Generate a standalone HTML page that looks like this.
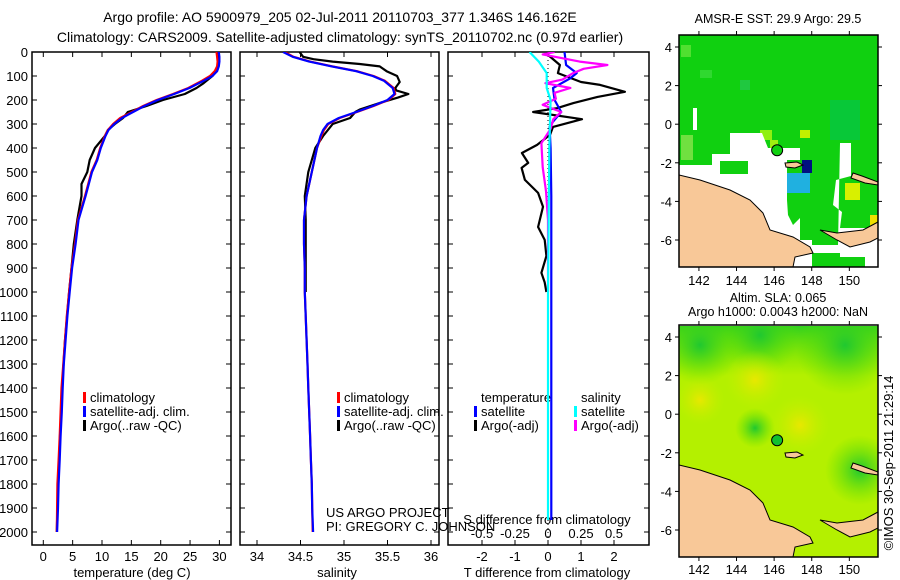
<!DOCTYPE html>
<html><head><meta charset="utf-8">
<style>
body{margin:0;background:#fff;}
svg{display:block;font-family:"Liberation Sans",sans-serif;}
text{font-size:13px;fill:#000;}
</style></head>
<body>
<svg id="fig" width="900" height="580" xmlns="http://www.w3.org/2000/svg">
<defs>
<clipPath id="c1"><rect x="32" y="52" width="199" height="493"/></clipPath>
<clipPath id="c2"><rect x="240" y="52" width="199" height="493"/></clipPath>
<clipPath id="c3"><rect x="448" y="52" width="201" height="493"/></clipPath>
<clipPath id="cm1"><rect x="679" y="35" width="199" height="232"/></clipPath>
<clipPath id="cm2"><rect x="679" y="326" width="199" height="231"/></clipPath>
<radialGradient id="gy1" cx="0.5" cy="0.5" r="0.5"><stop offset="0" stop-color="#e8e800"/><stop offset="1" stop-color="#c0f000" stop-opacity="0"/></radialGradient>
<radialGradient id="gg1" cx="0.5" cy="0.5" r="0.5"><stop offset="0" stop-color="#20c830"/><stop offset="1" stop-color="#60e000" stop-opacity="0"/></radialGradient>
<linearGradient id="topg" x1="0" y1="0" x2="0" y2="1"><stop offset="0" stop-color="#30d020"/><stop offset="1" stop-color="#60e000" stop-opacity="0"/></linearGradient>
</defs>
<text x="340" y="22" text-anchor="middle" style="font-size:14px">Argo profile: AO 5900979_205 02-Jul-2011 20110703_377 1.346S 146.162E</text>
<text x="340" y="42" text-anchor="middle" style="font-size:14px">Climatology: CARS2009. Satellite-adjusted climatology: synTS_20110702.nc (0.97d earlier)</text>
<g id="axes"></g>
<g id="series"></g>
<g id="maps"></g>
<text transform="translate(893,463) rotate(-90)" text-anchor="middle">©IMOS 30-Sep-2011 21:29:14</text>
</svg>
<script>
// ---- data ----
const climDepths=[0,20,40,60,80,100,120,150,175,200,225,250,275,300,325,350,400,450,500,600,700,800,900,1000,1100,1200,1300,1400,1500,1600,1700,1800,1900,2000];
const climTemp=[29.5,29.6,29.7,29.6,29.2,28.4,27,24.7,22.1,19.3,17,15.1,13.1,11.9,11,10.5,9.7,9.1,8.2,7.1,5.9,5.4,4.8,4.4,4.0,3.7,3.4,3.1,2.95,2.8,2.6,2.4,2.35,2.3];
const satTemp=[29.9,30.0,30.0,29.9,29.6,28.8,27.3,24.9,22.3,19.5,17.2,15.3,13.4,12.1,11.1,10.6,9.8,9.2,8.3,7.2,6.0,5.5,4.9,4.5,4.1,3.8,3.5,3.3,3.15,2.95,2.8,2.6,2.5,2.35];
const argoTempDepths=[0,20,50,80,100,130,150,175,200,225,250,275,300,325,350,400,450,500,550,600,700,800,900,1000,1200,1400,1600,1800,2000];
const argoTemp=[29.6,29.7,29.8,29.5,28.8,27.3,26.1,24.1,20.4,17.6,14.4,13.6,12.2,11,10.5,8.8,7.9,7.5,6.5,6.5,5.8,5.2,4.8,4.4,3.7,3.2,2.85,2.5,2.3];
const climSal=[34.32,34.42,34.61,34.87,35.15,35.34,35.47,35.57,35.59,35.51,35.34,35.15,34.95,34.82,34.77,34.74,34.69,34.66,34.63,34.57,34.54,34.54,34.55,34.55,34.56,34.57,34.58,34.59,34.6,34.61,34.62,34.63,34.635,34.64];
const satSal=[34.3,34.41,34.6,34.86,35.14,35.33,35.46,35.56,35.58,35.5,35.33,35.14,34.94,34.81,34.76,34.73,34.69,34.66,34.63,34.57,34.54,34.54,34.55,34.55,34.56,34.57,34.58,34.59,34.6,34.61,34.62,34.63,34.635,34.645];
const argoSalDepths=[0,20,30,40,50,60,80,100,125,150,160,175,190,210,240,250,275,300,350,400,450,500,600,700,1000];
const argoSal=[34.49,34.53,34.65,34.87,35.18,35.41,35.49,35.61,35.64,35.59,35.6,35.74,35.62,35.43,35.18,35.13,35.07,34.87,34.76,34.67,34.63,34.59,34.55,34.56,34.56];
const argoTdiffDepths=[0,12,54,88,125,137,166,187,213,234,250,280,312,345,387,421,462,483,533,587,645,729,783,850,920,960,1000];
const argoTdiff=[0,0,0.36,0.3,1.0,1.58,2.33,1.5,0.77,0.27,-0.45,1.03,0.15,0.06,-0.33,-0.79,-0.6,-0.8,-0.7,-0.3,-0.15,-0.3,-0.1,-0.05,-0.2,-0.1,-0.05];
const satTdiffDepths=[0,54,88,110,150,200,250,290,312,400,600,1000,1400,1950];
const satTdiff=[0.5,0.55,0.87,0.67,0.15,0.2,0.4,0.15,0.05,0.08,0.1,0.1,0.1,0.1];
const argoSdiffDepths=[0,10,40,54,70,88,115,130,150,170,195,220,250,280,320,380,480,580,700,1000];
const argoSdiff=[0.05,-0.04,0.24,0.45,0.27,0.19,0.11,-0.02,0.17,0.05,0.06,-0.04,0.1,0.04,0.02,-0.05,-0.04,-0.015,0,0];
const satSdiffDepths=[0,40,88,150,200,400,1000,1950];
const satSdiff=[-0.14,-0.07,-0.01,-0.01,0.02,0.01,0,0];
const depthTicks=[0,100,200,300,400,500,600,700,800,900,1000,1100,1200,1300,1400,1500,1600,1700,1800,1900,2000];
const tempTicks=[0,5,10,15,20,25,30];
const salTicks=[34,34.5,35,35.5,36];
const tdTicks=[-2,-1,0,1,2];
const sdTicks=[-0.5,-0.25,0,0.25,0.5];
const sdTickLabels=["-0.5","-0.25","0","0.25","0.5"];
const lonTicks=[142,144,146,148,150];
const latTicks=[4,2,0,-2,-4,-6];

// ---- scales ----
const yD=d=>52+d*0.24;
const xT=t=>43.3+t*5.87;
const xS=s=>257+(s-34)*87;
const xTd=t=>548+t*33;
const xSd=s=>548+s*132;
const NS="http://www.w3.org/2000/svg";
function mk(tag,attrs,parent){const e=document.createElementNS(NS,tag);for(const k in attrs)e.setAttribute(k,attrs[k]);parent.appendChild(e);return e;}
const axes=document.getElementById('axes'), ser=document.getElementById('series'), maps=document.getElementById('maps');

function panel(x0,x1,name){
  const r=mk('rect',{x:x0,y:52,width:x1-x0,height:493,fill:'none',stroke:'#000','stroke-width':1.5},axes);
  
  
  depthTicks.forEach(d=>{
    mk('line',{x1:x0,x2:x0+5,y1:yD(d),y2:yD(d),stroke:'#000'},axes);
    mk('line',{x1:x1-5,x2:x1,y1:yD(d),y2:yD(d),stroke:'#000'},axes);
  });
}
panel(32,231,'temperature-panel');panel(240,439,'salinity-panel');panel(448,649,'difference-panel');
depthTicks.forEach(d=>{
  const t=mk('text',{x:28,y:yD(d)+5,'text-anchor':'end'},axes);t.textContent=d;
  
  
});
function xticks(vals,labels,sc,x0,name){
  vals.forEach((v,i)=>{
    const x=sc(v);
    mk('line',{x1:x,x2:x,y1:52,y2:57,stroke:'#000'},axes);
    mk('line',{x1:x,x2:x,y1:540,y2:545,stroke:'#000'},axes);
    const t=mk('text',{x:x,y:561,'text-anchor':'middle'},axes);t.textContent=labels[i];
    
    
  });
}
xticks(tempTicks,tempTicks,xT,32,'temperature-tick-label');
xticks(salTicks,salTicks,xS,240,'salinity-tick-label');
xticks(tdTicks,tdTicks,xTd,448,'tdiff-tick-label');
sdTicks.forEach((v,i)=>{const t=mk('text',{x:xSd(v),y:538,'text-anchor':'middle'},axes);t.textContent=sdTickLabels[i];
  
  });
function lbl(x,y,txt,name,anchor){const t=mk('text',{x:x,y:y,'text-anchor':anchor||'start'},axes);t.textContent=txt;
  
  return t;}
lbl(132,577,'temperature (deg C)','temperature-axis-title','middle');
lbl(337,577,'salinity','salinity-axis-title','middle');
lbl(547,577,'T difference from climatology','tdiff-axis-title','middle');
lbl(547,524,'S difference from climatology','sdiff-axis-title','middle');
lbl(326,517,'US ARGO PROJECT','project-label');
lbl(326,531,'PI: GREGORY C. JOHNSON','pi-label');
function legend(x,y,color,txt,name){mk('rect',{x:x,y:y-10,width:3,height:11,fill:color},axes);lbl(x+7,y,txt,name);}
legend(83,402,'#f00','climatology','legend-climatology');
legend(83,416,'#00f','satellite-adj. clim.','legend-satellite-adj');
legend(83,430,'#000','Argo(..raw -QC)','legend-argo');
legend(337,402,'#f00','climatology','legend-sal-climatology');
legend(337,416,'#00f','satellite-adj. clim.','legend-sal-satellite-adj');
legend(337,430,'#000','Argo(..raw -QC)','legend-sal-argo');
lbl(481,402,'temperature','legend-temperature-heading');
legend(474,416,'#00f','satellite','legend-t-satellite');
legend(474,430,'#000','Argo(-adj)','legend-t-argo');
lbl(581,402,'salinity','legend-salinity-heading');
legend(574,416,'#0ff','satellite','legend-s-satellite');
legend(574,430,'#f0f','Argo(-adj)','legend-s-argo');
mk('line',{x1:548,x2:548,y1:52,y2:545,stroke:'#000','stroke-dasharray':'1,3'},axes);

function line(depths,vals,sc,color,clip,name){
  const pts=depths.map((d,i)=>sc(vals[i]).toFixed(1)+','+yD(d).toFixed(1)).join(' ');
  const p=mk('polyline',{points:pts,fill:'none',stroke:color,'stroke-width':2.2,'clip-path':'url(#'+clip+')','stroke-linejoin':'round'},ser);
  
  
}
line(argoTempDepths,argoTemp,xT,'#000','c1','argo-temperature-line');
line(climDepths,climTemp,xT,'#f00','c1','climatology-temperature-line');
line(climDepths,satTemp,xT,'#00f','c1','satellite-temperature-line');
line(argoSalDepths,argoSal,xS,'#000','c2','argo-salinity-line');
line(climDepths,climSal,xS,'#f00','c2','climatology-salinity-line');
line(climDepths,satSal,xS,'#00f','c2','satellite-salinity-line');
line(argoTdiffDepths,argoTdiff,xTd,'#000','c3','argo-tdiff-line');
line(satTdiffDepths,satTdiff,xTd,'#00f','c3','satellite-tdiff-line');
line(argoSdiffDepths,argoSdiff,xSd,'#f0f','c3','argo-sdiff-line');
line(satSdiffDepths,satSdiff,xSd,'#0ff','c3','satellite-sdiff-line');

// ---- maps ----
const mx=lon=>679+(lon-140.94)*18.8;
function drawMap(yoff,clip,title1,title2,sst,name){
  const g=mk('g',{'clip-path':'url(#'+clip+')'},maps);
  
  
  const my=lat=>47+yoff+(4-lat)*19.3;
  const P=a=>a.map(p=>p[0]+','+(p[1]+yoff)).join(' ');
  if(sst){
    mk('rect',{x:679,y:35,width:199,height:232,fill:'#10d010'},g);
    [[681,45,10,12,'#50e030'],[700,70,12,8,'#30d830'],[740,80,10,10,'#20c840'],[830,100,30,40,'#08c838'],[681,135,12,25,'#70e040'],[760,130,12,10,'#90f010'],[800,130,10,8,'#c0f000'],[730,150,10,8,'#60e030'],[770,140,8,8,'#a0f010'],[720,161,28,13,'#20c840']].forEach(c=>mk('rect',{x:c[0],y:c[1],width:c[2],height:c[3],fill:c[4]},g));
    mk('polygon',{points:P([[679,165],[712,165],[712,154],[730,154],[730,133],[762,133],[768,148],[800,148],[800,160],[787,160],[787,200],[788,215],[793,225],[800,218],[800,240],[812,240],[812,267],[679,267]]),fill:'#fff'},g);
    mk('polygon',{points:P([[693,108],[697,108],[697,130],[693,130]]),fill:'#fff'},g);
    mk('polygon',{points:P([[720,161],[748,161],[748,174],[720,174]]),fill:'#10d010'},g);
    mk('polygon',{points:P([[840,143],[851,143],[851,176],[836,180],[833,205],[842,212],[840,228],[878,228],[878,267],[865,267],[865,257],[840,257],[840,253],[812,253],[812,245],[838,245]]),fill:'#fff'},g);
    mk('rect',{x:787,y:173,width:23,height:20,fill:'#20b0e0'},g);
    mk('rect',{x:802,y:160,width:10,height:13,fill:'#001080'},g);
    mk('rect',{x:845,y:183,width:15,height:17,fill:'#d8f000'},g);
    mk('rect',{x:870,y:215,width:8,height:12,fill:'#f0e000'},g);
  } else {
    mk('rect',{x:679,y:326,width:199,height:231,fill:'#b4f000'},g);
    mk('rect',{x:679,y:326,width:199,height:50,fill:'url(#topg)'},g);
    [[700,345,40,'url(#gg1)'],[845,345,50,'url(#gg1)'],[760,335,40,'url(#gg1)'],[755,380,30,'url(#gy1)'],[700,400,25,'url(#gy1)'],[755,428,20,'url(#gg1)'],[860,470,35,'url(#gg1)'],[800,425,30,'url(#gy1)']].forEach(c=>mk('circle',{cx:c[0],cy:c[1],r:c[2],fill:c[3]},g));
  }
  const land='#f8c898';
  mk('polygon',{points:P([[679,175],[700,180],[730,190],[750,200],[763,213],[770,230],[793,237],[810,247],[813,253],[795,257],[793,267],[679,267]]),fill:land,stroke:'#000','stroke-width':1},g);
  mk('polygon',{points:P([[820,230],[837,240],[850,247],[870,242],[878,238],[878,222],[863,230],[837,233]]),fill:land,stroke:'#000','stroke-width':1},g);
  mk('polygon',{points:P([[853,173],[862,176],[878,182],[878,185],[865,183],[851,178]]),fill:land,stroke:'#000','stroke-width':1},g);
  mk('polygon',{points:P([[785,163],[797,162],[803,165],[795,168],[786,167]]),fill:land,stroke:'#000','stroke-width':1},g);
  mk('circle',{cx:mx(146.16),cy:my(-1.35),r:5.5,fill:sst?'#10d010':'#10c030',stroke:'#000','stroke-width':1},g);
  const fr=mk('rect',{x:679,y:35+yoff,width:199,height:232,fill:'none',stroke:'#000','stroke-width':1.5},maps);
  
  
  lonTicks.forEach(l=>{
    mk('line',{x1:mx(l),x2:mx(l),y1:35+yoff,y2:31+yoff,stroke:'#000'},maps);
    mk('line',{x1:mx(l),x2:mx(l),y1:267+yoff,y2:271+yoff,stroke:'#000'},maps);
    const t=mk('text',{x:mx(l),y:(yoff?574:285),'text-anchor':'middle'},maps);t.textContent=l;
    
    
  });
  latTicks.forEach(l=>{
    mk('line',{x1:675,x2:679,y1:my(l),y2:my(l),stroke:'#000'},maps);
    mk('line',{x1:878,x2:882,y1:my(l),y2:my(l),stroke:'#000'},maps);
    const t=mk('text',{x:672,y:my(l)+5,'text-anchor':'end'},maps);t.textContent=l;
    
    
  });
  const t1=mk('text',{x:778,y:yoff?302:23,'text-anchor':'middle',style:'font-size:12.5px'},maps);t1.textContent=title1;
  
  
  if(title2){const t2=mk('text',{x:778,y:316,'text-anchor':'middle',style:'font-size:12.5px'},maps);t2.textContent=title2;
    
    }
}
drawMap(0,'cm1','AMSR-E SST: 29.9 Argo: 29.5',null,true,'sst-map');
drawMap(290,'cm2','Altim. SLA: 0.065','Argo h1000: 0.0043 h2000: NaN',false,'sla-map');
</script>
</body></html>
